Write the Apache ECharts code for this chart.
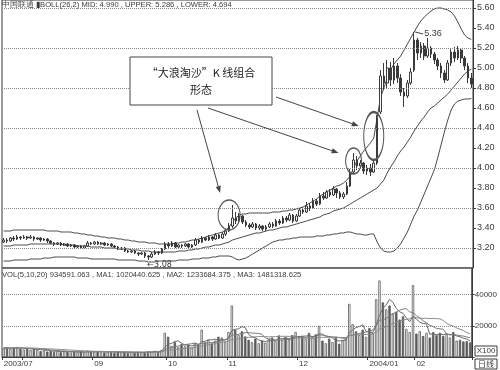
<!DOCTYPE html>
<html>
<head>
<meta charset="utf-8">
<script src="https://cdn.jsdelivr.net/npm/echarts@6/dist/echarts.min.js"></script>
<style>
  html, body { margin: 0; padding: 0; background: #fff; }
  #chart { width: 500px; height: 370px; }
</style>
</head>
<body>
<div id="chart"></div>
<script>
// Month labels of the daily bars and how many trading days each month holds
const monthNames = ['2003/07', '08', '09', '10', '11', '12', '2004/01', '02'];
const monthBars = [6, 21, 22, 18, 21, 21, 14, 17];

// Daily candles: [open, close, low, high]
const candles = [
  // 2003/07
  [3.26,3.28,3.25,3.30],[3.28,3.27,3.25,3.30],[3.27,3.30,3.26,3.31],[3.30,3.29,3.27,3.32],[3.29,3.31,3.28,3.33],[3.31,3.30,3.28,3.32],
  // 08
  [3.30,3.31,3.29,3.33],[3.31,3.30,3.28,3.32],[3.30,3.31,3.29,3.33],[3.31,3.29,3.27,3.32],[3.29,3.30,3.28,3.31],
  [3.30,3.28,3.26,3.31],[3.28,3.29,3.27,3.30],[3.29,3.27,3.25,3.30],[3.27,3.25,3.24,3.28],[3.25,3.24,3.22,3.26],
  [3.24,3.25,3.23,3.26],[3.25,3.23,3.22,3.26],[3.23,3.24,3.22,3.25],[3.24,3.22,3.21,3.25],[3.22,3.23,3.21,3.24],
  [3.23,3.21,3.20,3.24],[3.21,3.22,3.20,3.23],[3.22,3.20,3.19,3.23],[3.20,3.22,3.19,3.23],[3.22,3.25,3.21,3.27],
  [3.25,3.24,3.23,3.26],
  // 09
  [3.24,3.26,3.23,3.27],[3.26,3.24,3.23,3.27],[3.24,3.25,3.23,3.26],[3.25,3.23,3.22,3.26],[3.23,3.24,3.22,3.25],
  [3.24,3.22,3.21,3.25],[3.22,3.21,3.20,3.23],[3.21,3.19,3.18,3.22],[3.19,3.20,3.18,3.21],[3.20,3.17,3.16,3.21],
  [3.17,3.16,3.15,3.18],[3.16,3.17,3.15,3.18],[3.17,3.15,3.14,3.18],[3.15,3.14,3.12,3.16],[3.14,3.15,3.13,3.16],
  [3.15,3.12,3.10,3.16],[3.12,3.11,3.08,3.13],[3.11,3.14,3.10,3.16],[3.14,3.16,3.13,3.18],[3.16,3.15,3.13,3.17],
  [3.15,3.19,3.14,3.20],[3.19,3.24,3.18,3.26],
  // 10
  [3.24,3.22,3.20,3.26],[3.22,3.25,3.21,3.27],[3.25,3.21,3.20,3.26],[3.21,3.23,3.20,3.24],[3.23,3.22,3.20,3.24],
  [3.22,3.24,3.21,3.25],[3.24,3.21,3.20,3.25],[3.21,3.23,3.20,3.24],[3.23,3.28,3.22,3.30],[3.28,3.26,3.24,3.29],
  [3.26,3.30,3.25,3.32],[3.30,3.28,3.27,3.31],[3.28,3.31,3.27,3.33],[3.31,3.29,3.27,3.32],[3.29,3.33,3.28,3.35],
  [3.33,3.30,3.29,3.34],[3.30,3.34,3.29,3.36],[3.34,3.37,3.32,3.39],
  // 11
  [3.37,3.42,3.36,3.45],[3.42,3.50,3.40,3.63],[3.50,3.47,3.44,3.56],[3.47,3.52,3.45,3.55],[3.52,3.46,3.44,3.53],
  [3.46,3.43,3.41,3.48],[3.43,3.41,3.39,3.45],[3.41,3.44,3.40,3.46],[3.44,3.40,3.38,3.45],[3.40,3.42,3.38,3.44],
  [3.42,3.39,3.37,3.43],[3.39,3.41,3.37,3.43],[3.41,3.44,3.40,3.46],[3.44,3.42,3.40,3.46],[3.42,3.47,3.41,3.49],
  [3.47,3.45,3.43,3.49],[3.45,3.50,3.44,3.52],[3.50,3.48,3.46,3.52],[3.48,3.53,3.47,3.55],[3.53,3.47,3.45,3.54],
  [3.47,3.52,3.46,3.54],
  // 12
  [3.52,3.58,3.51,3.60],[3.58,3.56,3.54,3.61],[3.56,3.62,3.55,3.66],[3.62,3.60,3.57,3.65],[3.60,3.67,3.59,3.70],
  [3.67,3.64,3.62,3.69],[3.64,3.72,3.63,3.75],[3.72,3.70,3.68,3.76],[3.70,3.76,3.69,3.78],[3.76,3.73,3.71,3.79],
  [3.73,3.79,3.72,3.82],[3.79,3.75,3.70,3.80],[3.75,3.71,3.69,3.77],[3.71,3.74,3.69,3.76],[3.74,3.82,3.73,3.86],
  [3.82,3.96,3.81,3.99],[3.96,4.08,3.94,4.15],[4.08,4.02,3.98,4.12],[4.02,4.05,3.99,4.08],[4.05,3.97,3.94,4.06],
  [3.97,4.00,3.93,4.03],
  // 2004/01
  [4.00,3.96,3.92,4.04],[3.96,4.05,3.95,4.08],[4.05,4.50,4.03,4.53],[4.56,4.92,4.54,4.98],[4.92,4.85,4.78,5.05],
  [4.85,5.00,4.80,5.08],[5.00,4.88,4.82,5.06],[4.88,5.02,4.84,5.10],[5.02,4.90,4.85,5.05],[4.90,4.76,4.72,4.94],
  [4.76,4.72,4.61,4.80],[4.72,4.85,4.70,4.88],[4.85,4.96,4.83,5.00],[4.98,5.28,4.96,5.36],
  // 02
  [5.28,5.15,5.08,5.30],[5.15,5.22,5.10,5.26],[5.22,5.12,5.08,5.25],[5.12,5.20,5.10,5.30],[5.20,5.14,5.10,5.22],
  [5.14,5.08,5.04,5.16],[5.08,5.02,4.98,5.10],[5.02,4.95,4.90,5.05],[4.95,4.88,4.85,4.98],[4.88,5.05,4.87,5.08],
  [5.05,5.16,5.02,5.20],[5.16,5.10,5.06,5.21],[5.10,5.18,5.08,5.22],[5.18,5.10,5.05,5.20],[5.10,5.02,4.98,5.12],
  [5.02,4.90,4.85,5.05],[4.90,4.84,4.80,4.95]
];

// BOLL(26,2) bands
const bollUpper = [
  3.37,3.37,3.37,3.38,3.38,3.38,
  3.38,3.38,3.38,3.38,3.38,3.38,3.38,3.37,3.37,3.37,3.37,3.36,3.36,3.36,3.36,3.35,3.35,3.34,3.34,3.33,3.33,
  3.32,3.32,3.31,3.31,3.30,3.30,3.30,3.29,3.29,3.28,3.28,3.27,3.27,3.26,3.26,3.26,3.25,3.25,3.25,3.24,3.24,3.24,
  3.24,3.24,3.25,3.25,3.26,3.26,3.27,3.28,3.28,3.29,3.30,3.31,3.32,3.33,3.34,3.35,3.36,3.38,
  3.41,3.46,3.50,3.53,3.54,3.54,3.55,3.55,3.55,3.55,3.55,3.55,3.55,3.56,3.56,3.56,3.57,3.57,3.58,3.58,3.59,
  3.60,3.61,3.63,3.65,3.67,3.69,3.72,3.74,3.76,3.78,3.80,3.82,3.83,3.85,3.88,3.92,4.00,4.07,4.12,4.17,4.21,
  4.25,4.30,4.50,4.70,4.80,4.90,4.98,5.04,5.08,5.12,5.18,5.24,5.30,5.36,
  5.42,5.47,5.51,5.54,5.57,5.59,5.60,5.60,5.59,5.58,5.56,5.52,5.46,5.39,5.33,5.30,5.286
];
const bollMid = [
  3.22,3.22,3.22,3.23,3.23,3.23,
  3.23,3.23,3.24,3.24,3.24,3.24,3.24,3.24,3.24,3.24,3.24,3.24,3.23,3.23,3.23,3.23,3.22,3.22,3.22,3.22,3.21,
  3.21,3.21,3.21,3.20,3.20,3.20,3.20,3.19,3.19,3.19,3.19,3.18,3.18,3.18,3.17,3.17,3.17,3.16,3.16,3.16,3.16,3.16,
  3.16,3.16,3.16,3.17,3.17,3.17,3.18,3.18,3.19,3.19,3.20,3.21,3.21,3.22,3.23,3.23,3.24,3.25,
  3.26,3.28,3.29,3.30,3.31,3.32,3.33,3.34,3.35,3.35,3.36,3.37,3.38,3.38,3.39,3.40,3.41,3.41,3.42,3.43,3.44,
  3.45,3.46,3.47,3.48,3.49,3.50,3.51,3.53,3.54,3.55,3.57,3.58,3.59,3.60,3.62,3.64,3.66,3.68,3.70,3.72,3.74,
  3.76,3.78,3.80,3.84,3.88,3.95,4.01,4.06,4.12,4.17,4.21,4.26,4.31,4.37,
  4.42,4.47,4.51,4.56,4.60,4.62,4.65,4.68,4.71,4.74,4.78,4.82,4.86,4.90,4.94,4.97,4.990
];
const bollLower = [
  3.07,3.07,3.07,3.08,3.08,3.08,
  3.08,3.08,3.09,3.09,3.09,3.09,3.10,3.10,3.10,3.11,3.11,3.11,3.11,3.11,3.11,3.11,3.10,3.10,3.10,3.10,3.09,
  3.09,3.09,3.09,3.09,3.09,3.09,3.09,3.08,3.08,3.08,3.08,3.08,3.08,3.07,3.07,3.07,3.06,3.06,3.06,3.07,3.07,3.07,
  3.07,3.07,3.07,3.08,3.08,3.08,3.08,3.09,3.09,3.09,3.10,3.10,3.10,3.11,3.11,3.12,3.12,3.12,
  3.12,3.11,3.09,3.08,3.09,3.10,3.12,3.14,3.16,3.18,3.20,3.22,3.24,3.26,3.27,3.28,3.28,3.29,3.29,3.30,3.30,
  3.31,3.31,3.31,3.31,3.31,3.32,3.32,3.32,3.33,3.33,3.34,3.34,3.35,3.35,3.36,3.36,3.35,3.34,3.34,3.33,3.33,
  3.34,3.34,3.26,3.20,3.17,3.16,3.16,3.17,3.20,3.24,3.30,3.36,3.44,3.52,
  3.58,3.66,3.74,3.82,3.90,3.98,4.10,4.23,4.36,4.48,4.58,4.64,4.67,4.68,4.69,4.69,4.694
];

// Daily volume, in hundreds of shares
const volumes = [
  5600,6200,5100,5800,6400,5300,
  4800,5500,4600,5200,4400,3800,4200,3500,3900,3300,3700,3100,3600,3400,2900,3300,3000,3500,2800,4100,3600,
  3200,3800,3400,3000,3500,3100,2700,3300,2900,3400,2600,3000,2800,3200,2700,3100,3600,3300,4000,3500,4400,15500,
  13000,7200,9500,6400,8300,6900,7800,6100,9000,8200,17500,9400,11000,8800,10500,13000,12500,9800,
  16000,33000,17500,14000,16500,13200,11000,9500,11800,8800,10500,9200,11500,12500,10200,13800,11000,12800,10800,14000,16000,
  12000,13500,11500,15500,12800,14500,20000,10500,8800,11800,9500,12500,8500,10800,12000,34000,21000,16500,14000,17500,13000,
  18500,15500,37000,49000,35000,30500,33000,28000,29000,24000,26000,18000,16000,46000,
  15000,16500,13500,15500,12500,16000,14000,15500,13500,15000,12500,16000,10500,11000,10000,10200,9345.91063
];

// Volume averages (5, 10 and 20 days), in hundreds of shares
const volMa5 = [
  5800,5900,5700,5750,5820,5760,
  5480,5560,5320,5080,4900,4700,4440,4220,3960,3740,3720,3500,3520,3420,3340,3260,3240,3220,3100,3340,3400,
  3440,3500,3620,3400,3380,3360,3140,3120,3100,3080,2980,3040,2940,3000,2860,2960,3080,3180,3340,3500,3760,6140,
  8080,8720,9920,10320,8880,7660,7780,7100,7620,7600,9720,10040,11020,10980,11440,10540,11160,10920,
  12360,16860,17760,18060,19400,18840,14440,12840,12400,10860,10320,9960,10360,10500,10780,11440,11800,12060,11720,12480,12920,
  13120,13260,13400,13700,13060,13560,14860,14660,13320,13120,12120,10620,10220,10620,10660,15560,17260,18860,19500,20600,16400,
  15900,15700,20300,26600,31000,33400,36900,35100,31100,28900,28000,25000,22600,26000,
  24200,22300,21400,21300,14600,14800,14300,14700,14300,14800,14100,14500,13500,13000,12000,11540,10204.40625
];
const volMa10 = [
  5800,5850,5750,5780,5810,5780,
  5690,5630,5535,5450,5330,5090,5000,4770,4520,4320,4210,3970,3870,3690,3540,3490,3370,3370,3260,3340,3330,
  3340,3360,3360,3370,3390,3400,3320,3370,3250,3230,3170,3090,3030,3050,2970,2970,3060,3060,3170,3180,3360,4610,
  5630,6030,6710,7040,7510,7870,8250,8510,8970,8240,8690,8910,9060,9300,9520,10130,10600,10970,
  11670,14150,14150,14610,15160,15600,15650,15300,15230,15130,14580,12200,11600,11450,10820,10880,10880,11210,11110,11630,12180,
  12460,12660,12560,13090,12990,13340,14060,14030,13510,13090,12840,12740,12440,11970,11890,13840,13940,14540,15060,15630,15980,
  16580,17280,19900,23600,23700,24650,26300,27700,28850,29950,30700,30950,28850,28550,
  26550,25150,23200,21950,20300,19500,18300,18050,17800,14700,14450,14400,14100,13650,13400,12820,12336.84375
];
const volMa20 = [
  5900,5900,5850,5850,5850,5800,
  5780,5750,5720,5680,5565,5470,5375,5275,5165,5050,4950,4800,4700,4570,4435,4290,4185,4070,3890,3830,3770,
  3655,3615,3525,3455,3440,3385,3345,3315,3295,3280,3255,3225,3195,3210,3180,3185,3190,3215,3210,3205,3265,3850,
  4330,4540,4840,5005,5285,5465,5710,5845,6165,6425,7160,7470,7885,8170,8515,9000,9425,9740,
  10320,11195,11420,11760,12110,12450,12585,12715,12915,13050,13125,13175,12875,13030,12990,13240,13265,13255,13170,13380,13380,
  12330,12130,12005,11955,11935,12110,12635,12570,12570,12635,12650,12700,12500,12530,12440,13590,14000,14285,14285,14360,14410,
  14660,14860,15935,17745,18770,19295,20420,21380,22240,22965,23640,24115,24375,26075,
  25125,24900,24750,24825,24575,24725,24500,24500,23325,21625,20500,19775,18650,17800,16850,15700,14813.18625
];

// Price levels that carry a dotted guide line
const priceGuides = [3.2, 3.6, 4.0, 4.4, 4.8, 5.2, 5.6];

const stockName = '中国联通';
const noteLines = ['“大浪淘沙”K 线组合', '形态'];

const ink = '#3a3a3a';
const numFont = 'Liberation Sans, Arial, sans-serif';
const cjkFont = 'Noto Sans CJK SC, sans-serif';

const categories = [];
monthNames.forEach((m, k) => {
  for (let j = 0; j < monthBars[k]; j++) categories.push(m + '|' + j);
});

// Month starts get a date label, unless it would crowd the label before it
const labelGap = 10;
const labelledBars = new Set();
let prevLabelled = -Infinity;
categories.forEach((c, i) => {
  if (c.endsWith('|0') && i - prevLabelled >= labelGap) { labelledBars.add(i); prevLabelled = i; }
});
const isMonthStart = (i, v) => String(v).endsWith('|0');
const showsLabel = (i) => labelledBars.has(i);

const volumeData = volumes.map((v, i) => {
  const up = candles[i][1] >= candles[i][0];
  return { value: v, itemStyle: { color: up ? '#fff' : '#5a5a5a', borderColor: '#5a5a5a', borderWidth: 0.8 } };
});

const lineSeries = (data, color, xi, yi) => ({
  type: 'line', data, xAxisIndex: xi, yAxisIndex: yi, symbol: 'none', silent: true,
  lineStyle: { color, width: 1 }, z: 3
});

const chart = echarts.init(document.getElementById('chart'), null, { renderer: 'canvas' });

const option = {
  animation: false,
  backgroundColor: '#fff',
  grid: [
    { left: 2, top: 0, width: 471, height: 268, show: true, borderColor: ink, borderWidth: 1 },
    { left: 2, top: 268, width: 471, height: 89, show: true, borderColor: ink, borderWidth: 1 }
  ],
  xAxis: [
    { type: 'category', gridIndex: 0, data: categories, boundaryGap: true,
      axisLine: { show: false }, axisTick: { show: false }, axisLabel: { show: false }, splitLine: { show: false } },
    { type: 'category', gridIndex: 1, data: categories, boundaryGap: true,
      axisLine: { show: true, lineStyle: { color: ink } },
      axisTick: { show: true, interval: isMonthStart, length: 3, lineStyle: { color: ink } },
      axisLabel: { interval: showsLabel, formatter: v => v.split('|')[0], align: 'left', margin: 3,
        fontSize: 8, color: ink, fontFamily: numFont },
      splitLine: { show: false } }
  ],
  yAxis: [
    { type: 'value', gridIndex: 0, position: 'right', min: 3.0, max: 5.68, interval: 0.2,
      axisLine: { show: true, lineStyle: { color: ink } },
      axisTick: { show: true, length: 3, lineStyle: { color: ink } },
      axisLabel: { formatter: v => v.toFixed(2), showMinLabel: false, showMaxLabel: false,
        fontSize: 9, color: ink, margin: 4, fontFamily: numFont },
      splitLine: { show: false } },
    { type: 'value', gridIndex: 1, position: 'right', min: 0, max: 57000, interval: 20000,
      axisLine: { show: true, lineStyle: { color: ink } },
      axisTick: { show: true, length: 3, lineStyle: { color: ink } },
      axisLabel: { formatter: v => (v === 0 ? '' : String(v)), showMaxLabel: false,
        fontSize: 8, color: ink, margin: 3, fontFamily: numFont },
      splitLine: { show: true, lineStyle: { type: 'dotted', color: '#888', width: 1 } } }
  ],
  series: [
    { type: 'candlestick', xAxisIndex: 0, yAxisIndex: 0, data: candles, barWidth: '62%', z: 4,
      itemStyle: { color: '#fff', color0: ink, borderColor: ink, borderColor0: ink, borderWidth: 1 },
      markLine: { silent: true, symbol: 'none', label: { show: false },
        lineStyle: { type: 'dotted', color: '#8a8a8a', width: 1 },
        data: priceGuides.map(v => ({ yAxis: v })) } },
    lineSeries(bollUpper, '#4a4a4a', 0, 0),
    lineSeries(bollMid, '#4a4a4a', 0, 0),
    lineSeries(bollLower, '#4a4a4a', 0, 0),
    { type: 'bar', xAxisIndex: 1, yAxisIndex: 1, data: volumeData, barWidth: '70%', silent: true },
    lineSeries(volMa5, '#6a6a6a', 1, 1),
    lineSeries(volMa10, '#7a7a7a', 1, 1),
    lineSeries(volMa20, '#8a8a8a', 1, 1)
  ]
};
chart.setOption(option);

// Annotations placed from the data coordinates
const at = (i, p) => chart.convertToPixel({ xAxisIndex: 0, yAxisIndex: 0 }, [i, p]);
const last = candles.length - 1;

function arrow(x1, y1, x2, y2) {
  const a = Math.atan2(y2 - y1, x2 - x1), L = 7, W = 2.6;
  const bx = x2 - L * Math.cos(a), by = y2 - L * Math.sin(a);
  return [
    { type: 'line', shape: { x1, y1, x2: bx, y2: by }, style: { stroke: '#444', lineWidth: 1 }, z: 20 },
    { type: 'polygon', shape: { points: [[x2, y2], [bx + W * Math.sin(a), by - W * Math.cos(a)], [bx - W * Math.sin(a), by + W * Math.cos(a)]] },
      style: { fill: '#444' }, z: 20 }
  ];
}
function ring(cx, cy, rx, ry) {
  return { type: 'circle', x: cx, y: cy, scaleY: ry / rx, shape: { cx: 0, cy: 0, r: rx },
    style: { fill: 'none', stroke: '#555', lineWidth: 1, strokeNoScale: true }, z: 20 };
}

const e1 = at(67, 3.53), e2 = at(103.5, 4.07), e3 = at(110, 4.32);

let hiIdx = 0, loIdx = 0;
candles.forEach((c, i) => {
  if (c[3] > candles[hiIdx][3]) hiIdx = i;
  if (c[2] < candles[loIdx][2]) loIdx = i;
});
const hi = at(hiIdx, candles[hiIdx][3]);
const lo = at(loIdx, candles[loIdx][2]);

const headText = stockName + ' ▮BOLL(26,2) MID: ' + bollMid[last].toFixed(3) +
  ' , UPPER: ' + bollUpper[last].toFixed(3) + ' , LOWER: ' + bollLower[last].toFixed(3);
const volText = 'VOL(5,10,20) ' + (volumes[last] * 100).toFixed(3) +
  ' , MA1: ' + (volMa5[last] * 100).toFixed(3) +
  ' , MA2: ' + (volMa10[last] * 100).toFixed(3) +
  ' , MA3: ' + (volMa20[last] * 100).toFixed(3);

const graphics = [
  { type: 'text', x: 2, y: 1, z: 30, style: { text: headText, font: '7.6px ' + numFont, fill: ink } },
  { type: 'text', x: 2, y: 271, z: 30, style: { text: volText, font: '7.6px ' + numFont, fill: ink } },
  // note box
  { type: 'rect', shape: { x: 130, y: 57, width: 142, height: 48 }, style: { fill: '#fff', stroke: '#444', lineWidth: 1 }, z: 25 },
  { type: 'text', x: 201, y: 73, z: 26, style: { text: noteLines[0], font: '11px ' + cjkFont, fill: '#222', align: 'center', verticalAlign: 'middle' } },
  { type: 'text', x: 201, y: 90, z: 26, style: { text: noteLines[1], font: '11px ' + cjkFont, fill: '#222', align: 'center', verticalAlign: 'middle' } },
  ring(e1[0], e1[1], 11, 15),
  ring(e2[0], e2[1], 8, 13),
  ring(e3[0], e3[1], 10, 24),
  ...arrow(197, 110, e1[0] - 9, e1[1] - 22),
  ...arrow(208, 108, e2[0] - 15, e2[1] - 8),
  ...arrow(276, 97, e3[0] - 15, e3[1] - 10),
  // high / low marks
  { type: 'line', shape: { x1: hi[0] + 1, y1: hi[1], x2: hi[0] + 9, y2: hi[1] + 2 }, style: { stroke: '#444', lineWidth: 1 }, z: 20 },
  { type: 'text', x: hi[0] + 10, y: hi[1] + 2, z: 20, style: { text: candles[hiIdx][3].toFixed(2), font: '9px ' + numFont, fill: ink, verticalAlign: 'middle' } },
  { type: 'text', x: lo[0] - 1, y: lo[1] + 1, z: 20, style: { text: '←' + candles[loIdx][2].toFixed(2), font: '8px DejaVu Sans, sans-serif', fill: ink, verticalAlign: 'top' } },
  // unit and period boxes on the right
  { type: 'rect', shape: { x: 475, y: 346, width: 22, height: 10 }, style: { fill: '#fff', stroke: ink, lineWidth: 1 }, z: 20 },
  { type: 'text', x: 486, y: 351, z: 21, style: { text: 'X100', font: '8px ' + numFont, fill: ink, align: 'center', verticalAlign: 'middle' } },
  { type: 'rect', shape: { x: 475, y: 359, width: 22, height: 10 }, style: { fill: '#fff', stroke: ink, lineWidth: 1 }, z: 20 },
  { type: 'text', x: 486, y: 364, z: 21, style: { text: '日线', font: '8px ' + cjkFont, fill: ink, align: 'center', verticalAlign: 'middle' } }
];
chart.setOption({ graphic: graphics });
</script>
</body>
</html>
